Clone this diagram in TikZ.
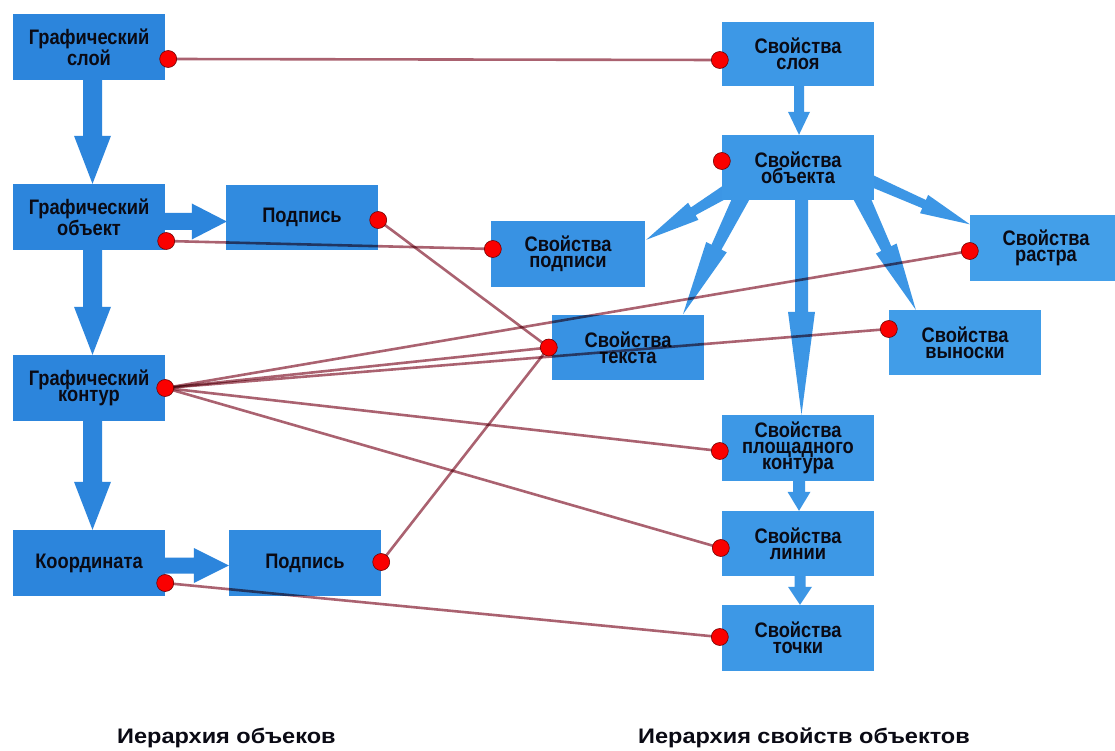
\documentclass[tikz,border=0pt]{standalone}
\usepackage{fontspec}
\setmainfont{Liberation Sans}
\newfontfamily\boxfont[FakeStretch=0.87]{Liberation Sans}
\newfontfamily\capfont[FakeStretch=1.12]{Liberation Sans}
\usetikzlibrary{calc}
\pgfdeclarelayer{bg}
\pgfsetlayers{bg,main}
\definecolor{boxL}{RGB}{42,131,219}
\definecolor{boxR}{RGB}{68,160,234}
\definecolor{arrL}{RGB}{44,133,220}
\definecolor{arrR}{RGB}{60,150,229}
\definecolor{wire}{RGB}{170,98,112}
\definecolor{txt}{RGB}{10,10,20}
\definecolor{dotred}{RGB}{250,0,0}
\tikzset{
  box/.style={minimum width=152pt, minimum height=66pt, inner sep=0pt, align=center,
    font=\boxfont\bfseries\fontsize{21}{16}\selectfont, text=txt},
  boxA/.style={box, fill=boxR!8!boxL},
  boxB/.style={box, fill=boxR!27!boxL},
  boxC/.style={box, fill=boxR!52!boxL},
  boxD/.style={box, fill=boxR!72!boxL},
  boxE/.style={box, fill=boxR!88!boxL},
  boxF/.style={box, fill=boxR!95!boxL},
  wireline/.style={draw=wire, line width=2.6pt},
  reddot/.style={circle, fill=dotred, draw=black!55!red, line width=0.6pt, minimum size=17pt, inner sep=0pt},
  caption/.style={font=\capfont\bfseries\fontsize{21}{24}\selectfont, text=txt, inner sep=0pt, anchor=base west}
}
\newcommand\blockarrow[7]{%
  \coordinate (ba-h) at ($(#3)!#7!(#2)$);
  \fill[#1] ($(#2)!#4!90:(#3)$) -- ($(ba-h)!#5!90:(#3)$) -- ($(ba-h)!#6!90:(#3)$) -- (#3)
    -- ($(ba-h)!#6!-90:(#3)$) -- ($(ba-h)!#5!-90:(#3)$) -- ($(#2)!#4!-90:(#3)$) -- cycle;
}
\begin{document}
\begin{tikzpicture}[x=1pt, y=-1pt]
\useasboundingbox (0,0) rectangle (1115,751);
\begin{pgfonlayer}{bg}
\fill[white] (0,0) rectangle (1115,751);
\end{pgfonlayer}

% left column
\node[boxA] (gsl) at (89,47) {Графический\\слой};
\node[boxA] (gob) at (89,217) {Графический\\объект};
\node[boxA] (gko) at (89,388) {Графический\\контур};
\node[boxA] (koo) at (89,563) {Координата};
\node[boxB, minimum height=65pt] (pd1) at (302,217.5) {Подпись};
\node[boxB] (pd2) at (305,563) {Подпись};

% right part
\node[boxD, minimum height=64pt] (ssl) at (798,54) {Свойства\\слоя};
\node[boxD, minimum height=65pt] (sob) at (798,167.5) {Свойства\\объекта};
\node[boxC, minimum width=154pt] (spd) at (568,254) {Свойства\\подписи};
\node[boxC, minimum height=65pt] (stx) at (628,347.5) {Свойства\\текста};
\node[boxF, minimum height=65pt] (sra) at (1046,248) {Свойства\\растра};
\node[boxE, minimum height=65pt] (svy) at (965,342.5) {Свойства\\выноски};
\node[boxD] (spk) at (798,448) {Свойства\\площадного\\контура};
\node[boxD, minimum height=65pt] (sli) at (798,543.5) {Свойства\\линии};
\node[boxD] (sto) at (798,638) {Свойства\\точки};

% captions
\node[caption] (cap1) at (117,743) {Иерархия объеков};
\node[caption] (cap2) at (638,743) {Иерархия свойств объектов};

% block arrows (behind boxes)
\begin{pgfonlayer}{bg}
\coordinate (a1s) at ($(gsl.center)+(3.5,0)$);
\coordinate (a1e) at ($(gob.north)+(3.5,0)$);
\blockarrow{arrL}{a1s}{a1e}{9.5pt}{9.5pt}{18.5pt}{48pt}
\coordinate (a2s) at ($(gob.center)+(3.5,0)$);
\coordinate (a2e) at ($(gko.north)+(3.5,0)$);
\blockarrow{arrL}{a2s}{a2e}{9.5pt}{9.5pt}{18.5pt}{48pt}
\coordinate (a3s) at ($(gko.center)+(3.5,0)$);
\coordinate (a3e) at ($(koo.north)+(3.5,0)$);
\blockarrow{arrL}{a3s}{a3e}{9.5pt}{9.5pt}{18.5pt}{48pt}
\coordinate (a4s) at ($(gob.center)+(0,4.5)$);
\coordinate (a4e) at ($(pd1.west)+(1,4)$);
\blockarrow{arrL}{a4s}{a4e}{8.5pt}{8.5pt}{18pt}{35pt}
\coordinate (a5s) at ($(koo.center)+(0,2.5)$);
\coordinate (a5e) at ($(pd2.west)+(0,2.5)$);
\blockarrow{arrL}{a5s}{a5e}{8pt}{8pt}{17.5pt}{35pt}

\coordinate (b1s) at ($(ssl.center)+(1,0)$);
\coordinate (b1e) at ($(sob.north)+(1,0)$);
\blockarrow{arrR}{b1s}{b1e}{5pt}{5pt}{11pt}{23pt}
\coordinate (b2s) at ($(spk.center)+(1,0)$);
\coordinate (b2e) at ($(sli.north)+(1,0)$);
\blockarrow{arrR}{b2s}{b2e}{6pt}{6pt}{11.5pt}{19pt}
\coordinate (b3s) at ($(sli.center)+(2,0)$);
\coordinate (b3e) at ($(sto.north)+(2,0)$);
\blockarrow{arrR}{b3s}{b3e}{5.5pt}{5.5pt}{12pt}{18pt}

\coordinate (c1s) at (735,186);
\coordinate (c1e) at ($(spd.north east)+(1,19)$);
\blockarrow{arrR}{c1s}{c1e}{7pt}{4.5pt}{10pt}{55pt}
\coordinate (c2s) at (745,190);
\coordinate (c2e) at ($(stx.north)+(55,-0.5)$);
\blockarrow{arrR}{c2s}{c2e}{8.5pt}{5.5pt}{11.5pt}{75pt}
\coordinate (c3s) at ($(sob.center)+(3.5,0)$);
\coordinate (c3e) at ($(spk.north)+(3.5,0)$);
\blockarrow{arrR}{c3s}{c3e}{6.5pt}{6.5pt}{13.5pt}{103pt}
\coordinate (c4s) at (858,190);
\coordinate (c4e) at ($(svy.north west)+(27,0)$);
\blockarrow{arrR}{c4s}{c4e}{8.5pt}{5.5pt}{11.5pt}{68pt}
\coordinate (c5s) at (865,178);
\coordinate (c5e) at ($(sra.north west)+(0,9)$);
\blockarrow{arrR}{c5s}{c5e}{6pt}{4.5pt}{10pt}{50pt}
\end{pgfonlayer}

% dot positions
\coordinate (dgsl) at ($(gsl.east)+(3,12)$);
\coordinate (dgob) at ($(gob.east)+(1,24)$);
\coordinate (dpd1) at ($(pd1.east)+(0,2.5)$);
\coordinate (dgko) at (gko.east);
\coordinate (dkoo) at ($(koo.east)+(0,20)$);
\coordinate (dpd2) at ($(pd2.east)+(0,-1)$);
\coordinate (dssl) at ($(ssl.west)+(-2,6)$);
\coordinate (dsob) at ($(sob.west)+(0,-6.5)$);
\coordinate (dspd) at ($(spd.west)+(2,-5)$);
\coordinate (dstx) at ($(stx.west)+(-3,0)$);
\coordinate (dsra) at ($(sra.west)+(0,3)$);
\coordinate (dsvy) at ($(svy.west)+(0,-13.5)$);
\coordinate (dspk) at ($(spk.west)+(-2,3)$);
\coordinate (dsli) at ($(sli.west)+(-1,4.5)$);
\coordinate (dsto) at ($(sto.west)+(-2,-1)$);

% connectors
\begin{scope}[blend mode=multiply]
\draw[wireline] (dgsl) -- (dssl);
\draw[wireline] (dgob) -- (dspd);
\draw[wireline] (dpd1) -- (dstx);
\draw[wireline] (dgko) -- (dsra);
\draw[wireline] (dgko) -- (dstx);
\draw[wireline] (dgko) -- (dsvy);
\draw[wireline] (dgko) -- (dspk);
\draw[wireline] (dgko) -- (dsli);
\draw[wireline] (dpd2) -- (dstx);
\draw[wireline] (dkoo) -- (dsto);
\end{scope}

% dots
\foreach \d in {dgsl,dgob,dpd1,dgko,dkoo,dpd2,dssl,dsob,dspd,dstx,dsra,dsvy,dspk,dsli,dsto}
  \node[reddot] (n\d) at (\d) {};
\end{tikzpicture}
\end{document}
